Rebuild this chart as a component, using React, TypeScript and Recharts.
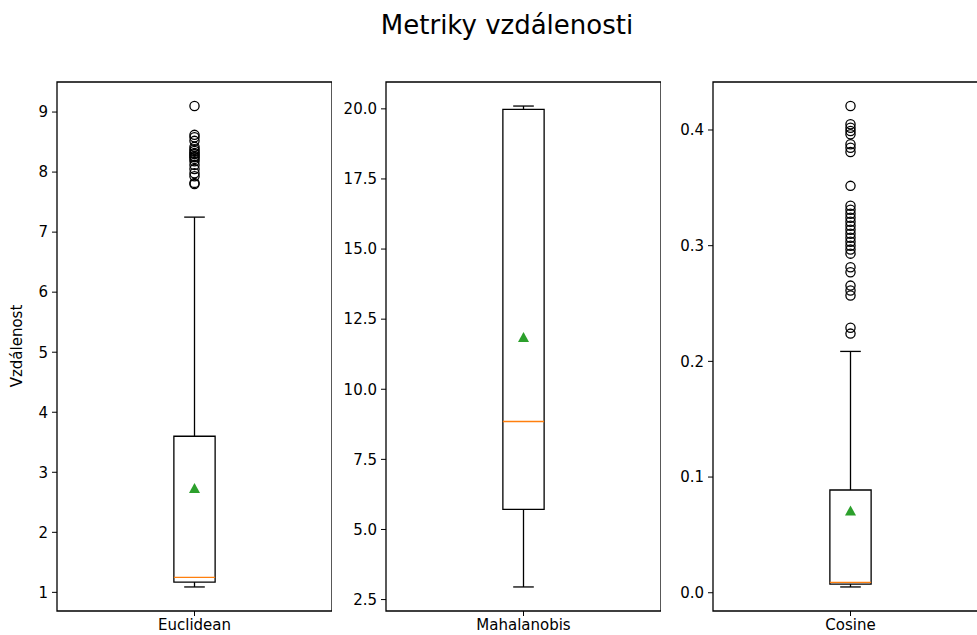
import {
  ScatterChart,
  Scatter,
  XAxis,
  YAxis,
  ReferenceArea,
  ReferenceLine,
} from "recharts";

// matplotlib-style boxplot stats
const metricNames = ["Euclidean", "Mahalanobis", "Cosine"];

const euclideanStats = { lo: 1.09, q1: 1.17, med: 1.25, q3: 3.6, hi: 7.25, mean: 2.73 };
const euclideanOutliers = [
  9.1, 8.62, 8.58, 8.52, 8.42, 8.38, 8.35, 8.32, 8.3, 8.27, 8.25, 8.22, 8.18, 8.12,
  8.05, 7.98, 7.93, 7.82, 7.8,
];
const euclideanTicks = [1, 2, 3, 4, 5, 6, 7, 8, 9];

const mahalanobisStats = { lo: 2.95, q1: 5.72, med: 8.85, q3: 19.98, hi: 20.1, mean: 11.85 };
const mahalanobisOutliers: number[] = [];
const mahalanobisTicks = [2.5, 5, 7.5, 10, 12.5, 15, 17.5, 20];

const cosineStats = { lo: 0.005, q1: 0.0075, med: 0.009, q3: 0.0888, hi: 0.2086, mean: 0.0707 };
const cosineOutliers = [
  0.4207, 0.4049, 0.402, 0.3991, 0.3963, 0.3877, 0.3847, 0.381, 0.3517, 0.3345, 0.331,
  0.3276, 0.3241, 0.3207, 0.3172, 0.3138, 0.3103, 0.3069, 0.3034, 0.3, 0.2966, 0.2931,
  0.2813, 0.277, 0.2655, 0.2612, 0.2569, 0.229, 0.224,
];
const cosineTicks = [0, 0.1, 0.2, 0.3, 0.4];

const FONT = "'DejaVu Sans', sans-serif";
const LW = 1.3;

type Stats = { lo: number; q1: number; med: number; q3: number; hi: number; mean: number };

const Circle = (props: any) => (
  <circle cx={props.cx} cy={props.cy} r={4.6} fill="none" stroke="#000" strokeWidth={1.3} />
);

const Triangle = (props: any) => {
  const { cx, cy } = props;
  return <path d={`M${cx},${cy - 5.5} L${cx + 5.5},${cy + 4.5} L${cx - 5.5},${cy + 4.5} Z`} fill="#2ca02c" />;
};

const BoxPanel = ({
  name,
  stats,
  outliers,
  ticks,
  fmt,
  left,
}: {
  name: string;
  stats: Stats;
  outliers: number[];
  ticks: number[];
  fmt: (v: number) => string;
  left: number;
}) => {
  const all = [stats.lo, stats.hi, ...outliers];
  const mn = Math.min(...all);
  const mx = Math.max(...all);
  const pad = (mx - mn) * 0.05;
  const domain = [mn - pad, mx + pad];
  const bw = 0.075;
  const cw = 0.0375;
  return (
    <div style={{ position: "absolute", left, top: 0 }}>
      <ScatterChart width={332} height={635} margin={{ top: 82, right: 0, bottom: 0, left: 0 }}>
        <XAxis
          type="number"
          dataKey="x"
          domain={[0.5, 1.5]}
          ticks={[1]}
          allowDataOverflow
          tickFormatter={() => name}
          height={24}
          tickSize={5}
          tickMargin={3}
          axisLine={false}
          tickLine={{ stroke: "#000" }}
          tick={{ fill: "#000", fontSize: 15, fontFamily: FONT }}
        />
        <YAxis
          type="number"
          dataKey="y"
          domain={domain}
          ticks={ticks}
          allowDataOverflow
          tickFormatter={fmt}
          width={57}
          tickSize={5}
          tickMargin={4}
          axisLine={false}
          tickLine={{ stroke: "#000" }}
          tick={{ fill: "#000", fontSize: 15, fontFamily: FONT }}
        />
        <ReferenceArea x1={0.5} x2={1.5} y1={domain[0]} y2={domain[1]} fill="none" stroke="#000" strokeWidth={LW} />
        <ReferenceLine segment={[{ x: 1, y: stats.q3 }, { x: 1, y: stats.hi }]} stroke="#000" strokeWidth={LW} />
        <ReferenceLine segment={[{ x: 1, y: stats.lo }, { x: 1, y: stats.q1 }]} stroke="#000" strokeWidth={LW} />
        <ReferenceLine segment={[{ x: 1 - cw, y: stats.hi }, { x: 1 + cw, y: stats.hi }]} stroke="#000" strokeWidth={LW} />
        <ReferenceLine segment={[{ x: 1 - cw, y: stats.lo }, { x: 1 + cw, y: stats.lo }]} stroke="#000" strokeWidth={LW} />
        <ReferenceArea x1={1 - bw} x2={1 + bw} y1={stats.q1} y2={stats.q3} fill="#fff" fillOpacity={0} stroke="#000" strokeWidth={LW} />
        <ReferenceLine segment={[{ x: 1 - bw, y: stats.med }, { x: 1 + bw, y: stats.med }]} stroke="#ff7f0e" strokeWidth={LW} />
        <Scatter data={outliers.map((v) => ({ x: 1, y: v }))} shape={Circle} isAnimationActive={false} />
        <Scatter data={[{ x: 1, y: stats.mean }]} shape={Triangle} isAnimationActive={false} />
      </ScatterChart>
    </div>
  );
};

export default function App() {
  return (
    <div
      style={{
        position: "absolute",
        left: 0,
        top: 0,
        width: 977,
        height: 635,
        overflow: "hidden",
        background: "#fff",
        fontFamily: FONT,
      }}
    >
      <div
        style={{
          position: "absolute",
          left: 0,
          width: 1014,
          top: 9,
          textAlign: "center",
          fontSize: 26,
          lineHeight: "32px",
          color: "#000",
        }}
      >
        Metriky vzdálenosti
      </div>
      <BoxPanel name={metricNames[0]} stats={euclideanStats} outliers={euclideanOutliers} ticks={euclideanTicks} fmt={(v) => String(v)} left={0} />
      <BoxPanel name={metricNames[1]} stats={mahalanobisStats} outliers={mahalanobisOutliers} ticks={mahalanobisTicks} fmt={(v) => v.toFixed(1)} left={329} />
      <BoxPanel name={metricNames[2]} stats={cosineStats} outliers={cosineOutliers} ticks={cosineTicks} fmt={(v) => v.toFixed(1)} left={656} />
      <svg style={{ position: "absolute", left: 0, top: 0 }} width={40} height={635}>
        <text x={22} y={346} transform="rotate(-90 22 346)" textAnchor="middle" fontSize={15} fontFamily={FONT} fill="#000">
          Vzdálenost
        </text>
      </svg>
    </div>
  );
}
